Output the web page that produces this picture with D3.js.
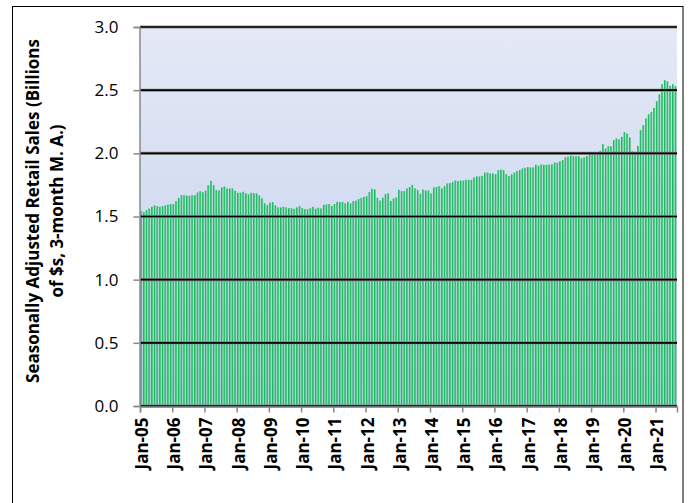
<!DOCTYPE html>
<html>
<head>
<meta charset="utf-8">
<script src="https://cdn.jsdelivr.net/npm/d3@7"></script>
<style>
  body { margin: 0; background: #fff; }
  svg text { font-family: "Open Sans", "Liberation Sans", sans-serif; }
</style>
</head>
<body>
<script>
// monthly values, Jan 2005 .. Aug 2021 (billions of $, 3-month moving average)
const sales = [
  1.543,1.535,1.55,1.564,1.577,1.588,1.582,1.577,1.582,1.588,1.593,1.598,
  1.598,1.622,1.646,1.669,1.669,1.666,1.664,1.669,1.669,1.69,1.70,1.692,
  1.706,1.748,1.782,1.748,1.711,1.706,1.73,1.738,1.722,1.722,1.722,1.704,
  1.688,1.688,1.696,1.683,1.675,1.688,1.685,1.683,1.667,1.643,1.604,1.59,
  1.609,1.614,1.588,1.572,1.572,1.577,1.572,1.566,1.566,1.561,1.572,1.582,
  1.566,1.558,1.558,1.566,1.577,1.561,1.569,1.564,1.593,1.596,1.598,1.582,
  1.598,1.616,1.614,1.616,1.604,1.616,1.604,1.622,1.625,1.638,1.648,1.656,
  1.661,1.693,1.719,1.714,1.648,1.627,1.648,1.677,1.683,1.622,1.643,1.651,
  1.711,1.701,1.701,1.722,1.733,1.751,1.722,1.709,1.68,1.714,1.706,1.706,
  1.683,1.730,1.735,1.74,1.722,1.74,1.762,1.764,1.772,1.785,1.780,1.785,
  1.785,1.790,1.790,1.790,1.809,1.817,1.817,1.822,1.848,1.848,1.841,1.841,
  1.835,1.867,1.872,1.867,1.835,1.820,1.833,1.848,1.859,1.867,1.880,1.886,
  1.891,1.889,1.889,1.909,1.901,1.912,1.909,1.909,1.912,1.912,1.928,1.925,
  1.938,1.946,1.970,1.975,1.983,1.978,1.978,1.978,1.962,1.970,1.978,1.988,
  1.994,1.999,1.996,2.020,2.073,2.038,2.057,2.057,2.104,2.118,2.110,2.131,
  2.168,2.157,2.126,2.017,2.012,2.059,2.184,2.223,2.276,2.31,2.328,2.36,
  2.413,2.468,2.547,2.579,2.571,2.534,2.547,2.532
];

const months = d3.timeMonths(new Date(2005, 0, 1), new Date(2021, 8, 1));

const yearLabels = ["Jan-05","Jan-06","Jan-07","Jan-08","Jan-09","Jan-10","Jan-11","Jan-12",
  "Jan-13","Jan-14","Jan-15","Jan-16","Jan-17","Jan-18","Jan-19","Jan-20","Jan-21"];

const yTicks = [0, 0.5, 1.0, 1.5, 2.0, 2.5, 3.0];

const W = 691, H = 503;
const plot = { left: 140, right: 677, top: 27, bottom: 406 };

const svg = d3.select("body").append("svg")
    .attr("width", W)
    .attr("height", H);

const defs = svg.append("defs");

// plot area background
const bg = defs.append("linearGradient")
    .attr("id", "bgGrad")
    .attr("x1", 0).attr("y1", 0).attr("x2", 0).attr("y2", 1);
bg.append("stop").attr("offset", 0).attr("stop-color", "#e4e9f5");
bg.append("stop").attr("offset", 1).attr("stop-color", "#c1cfed");

// bar fill
const barGrad = defs.append("linearGradient")
    .attr("id", "barGrad")
    .attr("x1", 0).attr("y1", 0).attr("x2", 1).attr("y2", 0);
barGrad.append("stop").attr("offset", 0).attr("stop-color", "#00b050");
barGrad.append("stop").attr("offset", 0.45).attr("stop-color", "#2cbf6a");
barGrad.append("stop").attr("offset", 1).attr("stop-color", "#86d6ad");

// outer chart frame
svg.append("rect")
    .attr("x", 12.5).attr("y", 6.5)
    .attr("width", 670.5).attr("height", 520)
    .attr("fill", "#fff")
    .attr("stroke", "#000")
    .attr("stroke-width", 1);

svg.append("rect")
    .attr("x", plot.left).attr("y", plot.top)
    .attr("width", plot.right - plot.left)
    .attr("height", plot.bottom - plot.top)
    .attr("fill", "url(#bgGrad)");

const x = d3.scaleBand()
    .domain(d3.range(sales.length))
    .range([plot.left, plot.right])
    .paddingInner(0.28)
    .paddingOuter(0.14);

const xm = d3.scaleLinear()
    .domain([0, sales.length])
    .range([plot.left, plot.right]);

const y = d3.scaleLinear()
    .domain([0, 3])
    .range([plot.bottom, plot.top]);

// bars
svg.append("g")
    .selectAll("rect")
    .data(sales)
    .enter().append("rect")
    .attr("x", function(d, i) { return x(i); })
    .attr("y", function(d) { return y(d); })
    .attr("width", x.bandwidth())
    .attr("height", function(d) { return y(0) - y(d); })
    .attr("fill", "url(#barGrad)");

// gridlines (drawn over the bars)
const grid = svg.append("g");
grid.selectAll(".shadow")
    .data(yTicks)
    .enter().append("line")
    .attr("x1", plot.left).attr("x2", plot.right)
    .attr("y1", function(d) { return y(d); })
    .attr("y2", function(d) { return y(d); })
    .attr("stroke", "#8a8a8a")
    .attr("stroke-width", 3);
grid.selectAll(".major")
    .data(yTicks)
    .enter().append("line")
    .attr("x1", plot.left).attr("x2", plot.right)
    .attr("y1", function(d) { return y(d); })
    .attr("y2", function(d) { return y(d); })
    .attr("stroke", "#000")
    .attr("stroke-width", 1.6);

// y axis
const yAxis = svg.append("g")
    .attr("transform", "translate(" + (plot.left - 0.5) + ",0)")
    .call(d3.axisLeft(y).tickValues(yTicks).tickFormat(d3.format(".1f")).tickSizeOuter(0).tickSize(6).tickPadding(15));
yAxis.select(".domain").attr("stroke", "#888").attr("stroke-width", 1.5);
yAxis.selectAll(".tick line").attr("stroke", "#888").attr("stroke-width", 1.5);
yAxis.selectAll(".tick text")
    .attr("fill", "#000")
    .style("font-size", "17px");

// x axis, one tick each January
const xAxis = svg.append("g")
    .attr("transform", "translate(0," + (plot.bottom + 0.5) + ")")
    .call(d3.axisBottom(xm)
        .tickValues(d3.range(0, sales.length, 12))
        .tickFormat(function(d) { return yearLabels[d / 12]; })
        .tickSizeOuter(0)
        .tickSize(6));
xAxis.select(".domain").attr("stroke", "#888").attr("stroke-width", 1.5);
xAxis.selectAll(".tick line").attr("stroke", "#888").attr("stroke-width", 1.5);
xAxis.selectAll(".tick text")
    .attr("fill", "#000")
    .attr("text-anchor", "end")
    .attr("transform", "translate(" + (x.step() / 2) + ",0) rotate(-90)")
    .attr("x", -11)
    .attr("y", 0)
    .attr("dy", "0.36em")
    .style("font-size", "17px")
    .style("font-weight", "bold");

// y axis title
const title = svg.append("text")
    .attr("transform", "translate(39," + 211 + ") rotate(-90)")
    .attr("text-anchor", "middle")
    .style("font-size", "17px")
    .style("font-weight", "bold")
    .attr("fill", "#000");
title.append("tspan")
    .attr("x", 0).attr("y", 0)
    .text("Seasonally Adjusted Retail Sales (Billions");
title.append("tspan")
    .attr("x", 0).attr("dy", 24)
    .text("of $s, 3-month M. A.)");
</script>
</body>
</html>
